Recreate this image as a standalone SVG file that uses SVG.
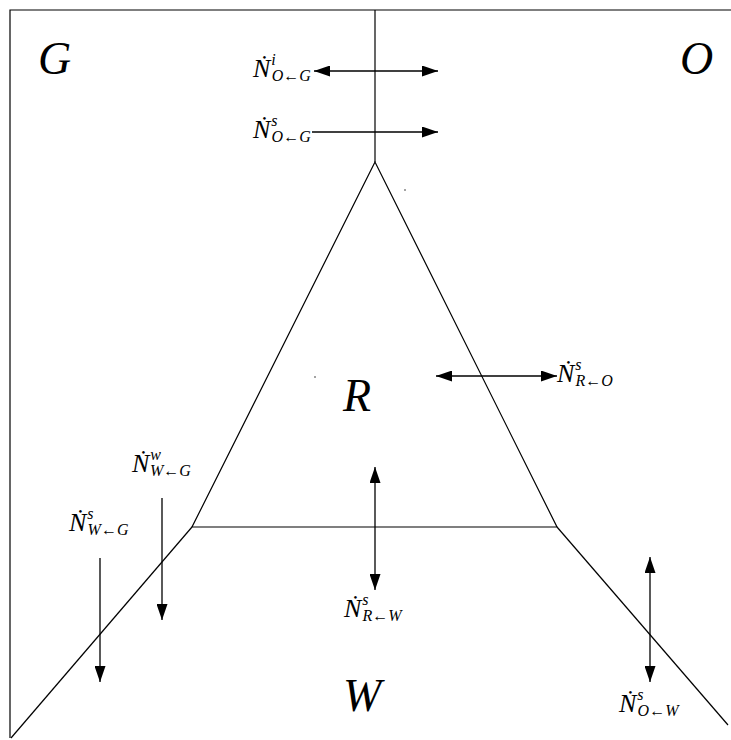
<svg xmlns="http://www.w3.org/2000/svg" width="731" height="740" viewBox="0 0 731 740">
<style>
.ln{stroke:#000;stroke-width:1.2;fill:none}
.ar{stroke:#000;stroke-width:1.3;fill:none}
.big{font-family:"Liberation Serif",serif;font-style:italic;font-size:46px;fill:#000}
.lab{font-family:"Liberation Serif",serif;font-style:italic;font-size:26px;fill:#000}
.sm{font-size:16px}
</style>
<defs>
<marker id="ah" viewBox="0 0 16 11" refX="16" refY="5.5" markerWidth="16" markerHeight="11" markerUnits="userSpaceOnUse" orient="auto-start-reverse">
<path d="M0,0 L16,5.5 L0,11 z" fill="#000"/>
</marker>
</defs>
<rect width="731" height="740" fill="#fff"/>
<g id="frame">
<path class="ln" d="M10,738 L10,10 L731,10"/>
</g>
<g id="boundaries">
<path class="ln" d="M375,10 L375,162"/>
<path class="ln" d="M375,162 L192,527 L557,527 Z"/>
<path class="ln" d="M192,527 L11,738"/>
<path class="ln" d="M557,527 L728,725"/>
<circle cx="405" cy="190" r="0.7" fill="#000"/>
<circle cx="315" cy="377" r="0.7" fill="#000"/>
</g>
<g id="connectors">
<line class="ar" x1="314" y1="71" x2="438" y2="71" marker-start="url(#ah)" marker-end="url(#ah)"/>
<line class="ar" x1="312" y1="132" x2="438" y2="132" marker-end="url(#ah)"/>
<line class="ar" x1="436" y1="376" x2="557" y2="376" marker-start="url(#ah)" marker-end="url(#ah)"/>
<line class="ar" x1="375" y1="467" x2="375" y2="590" marker-start="url(#ah)" marker-end="url(#ah)"/>
<line class="ar" x1="162" y1="498" x2="162" y2="620" marker-end="url(#ah)"/>
<line class="ar" x1="100" y1="558" x2="100" y2="682" marker-end="url(#ah)"/>
<line class="ar" x1="650" y1="557" x2="650" y2="682" marker-start="url(#ah)" marker-end="url(#ah)"/>
</g>
<g id="region-G"><text class="big" x="38" y="74">G</text></g>
<g id="region-O"><text class="big" x="680" y="74">O</text></g>
<g id="region-R"><text class="big" x="343" y="411">R</text></g>
<g id="region-W"><text class="big" x="343" y="711">W</text></g>
<g id="label-NiOG"><text class="lab" x="253" y="77">Ṅ<tspan class="sm" dx="1" dy="-12">i</tspan><tspan class="sm" dx="-4" dy="16">O←G</tspan></text></g>
<g id="label-NsOG"><text class="lab" x="253" y="138">Ṅ<tspan class="sm" dx="1" dy="-12">s</tspan><tspan class="sm" dx="-6" dy="16">O←G</tspan></text></g>
<g id="label-NsRO"><text class="lab" x="557" y="382">Ṅ<tspan class="sm" dx="1" dy="-12">s</tspan><tspan class="sm" dx="-6" dy="16">R←O</tspan></text></g>
<g id="label-NwWG"><text class="lab" x="132" y="472">Ṅ<tspan class="sm" dx="1" dy="-12">w</tspan><tspan class="sm" dx="-11" dy="16">W←G</tspan></text></g>
<g id="label-NsWG"><text class="lab" x="69" y="531">Ṅ<tspan class="sm" dx="1" dy="-12">s</tspan><tspan class="sm" dx="-6" dy="16">W←G</tspan></text></g>
<g id="label-NsRW"><text class="lab" x="344" y="617">Ṅ<tspan class="sm" dx="1" dy="-12">s</tspan><tspan class="sm" dx="-6" dy="16">R←W</tspan></text></g>
<g id="label-NsOW"><text class="lab" x="619" y="712">Ṅ<tspan class="sm" dx="1" dy="-12">s</tspan><tspan class="sm" dx="-6" dy="16">O←W</tspan></text></g>
</svg>
